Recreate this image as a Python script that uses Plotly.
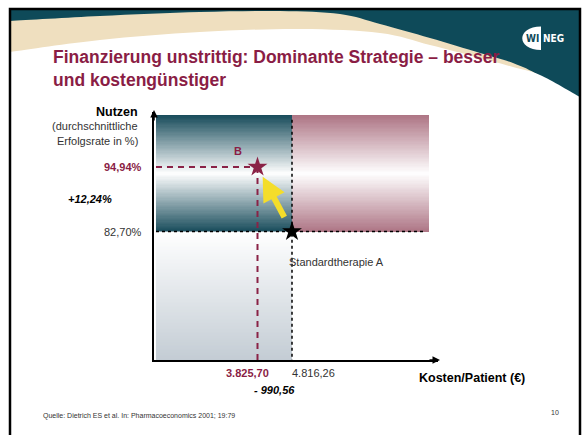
import numpy as np
import plotly.graph_objects as go

W, H = 583, 435

# ---------------- data ----------------
labels = ["Standardtherapie A", "B"]
kosten = [4816.26, 3825.70]      # Kosten/Patient (€)
nutzen = [82.70, 94.94]          # durchschnittliche Erfolgsrate in %
A_x, B_x = kosten
A_y, B_y = nutzen

title_lines = ["Finanzierung unstrittig: Dominante Strategie \u2013 besser",
               "und kostengünstiger"]
y_title = ["Nutzen", "(durchschnittliche", "Erfolgsrate in %)"]
x_title = "Kosten/Patient (\u20ac)"
source = "Quelle: Dietrich ES et al. In: Pharmacoeconomics 2001; 19:79"
page_no = "10"

# ---------------- layout constants ----------------
X_RANGE = [854, 9008]
Y_RANGE = [58.31, 105.38]
REGION_LEFT = 911
REGION_TOP = 104.81
PINK_END = 8750
VDOT_TOP = 103.9
HDOT_END = 8635

TEAL = "#0e4a59"
BEIGE = "#efdfbf"
MAROON = "#8a1d45"
DASH_MAROON = "#8a2246"
GREY_TXT = "#333333"
YELLOW = "#f4dd2a"
FONT = "Liberation Sans, Arial, sans-serif"
NARROW = "Liberation Sans Narrow, Arial Narrow, DejaVu Sans Condensed, Liberation Sans"


def de(v):
    s = f"{v:,.2f}"
    return s.replace(",", "X").replace(".", ",").replace("X", ".")


def P(x, y):
    return f"{x / W:.5f},{1 - y / H:.5f}"


def smooth(pts):
    path = "M " + P(*pts[0])
    n = len(pts)
    for i in range(n - 1):
        p0 = np.array(pts[i - 1] if i > 0 else pts[i], float)
        p1 = np.array(pts[i], float)
        p2 = np.array(pts[i + 1], float)
        p3 = np.array(pts[i + 2] if i + 2 < n else pts[i + 1], float)
        c1 = p1 + (p2 - p0) / 6
        c2 = p2 - (p3 - p1) / 6
        path += f" C {P(*c1)} {P(*c2)} {P(*p2)}"
    return path


fig = go.Figure()

# ---------------- gradient regions ----------------
N = 90
f = (np.arange(N) + 0.5) / N
y_up = np.linspace(A_y, REGION_TOP, N + 1)
z_sym = [[abs(2 * v - 1)] for v in f]
fig.add_trace(go.Heatmap(x=[REGION_LEFT, A_x], y=y_up, z=z_sym, zmin=0, zmax=1,
                         colorscale=[[0, "#ffffff"], [1, "#174b5a"]],
                         showscale=False, hoverinfo="skip"))
fig.add_trace(go.Heatmap(x=[A_x, PINK_END], y=y_up, z=z_sym, zmin=0, zmax=1,
                         colorscale=[[0, "#ffffff"], [1, "#ad7484"]],
                         showscale=False, hoverinfo="skip"))
y_low = np.linspace(Y_RANGE[0], A_y, N + 1)
z_low = [[1 - v] for v in f]
fig.add_trace(go.Heatmap(x=[REGION_LEFT, A_x], y=y_low, z=z_low, zmin=0, zmax=1,
                         colorscale=[[0, "#ffffff"], [1, "#c3ccd4"]],
                         showscale=False, hoverinfo="skip"))

# ---------------- reference lines ----------------
fig.add_trace(go.Scatter(x=[A_x, A_x], y=[VDOT_TOP, Y_RANGE[0]], mode="lines",
                         line=dict(color="black", width=1.5, dash="dot"), hoverinfo="skip"))
fig.add_trace(go.Scatter(x=[REGION_LEFT, HDOT_END], y=[A_y, A_y], mode="lines",
                         line=dict(color="black", width=1.5, dash="dot"), hoverinfo="skip"))
fig.add_trace(go.Scatter(x=[REGION_LEFT, B_x], y=[B_y, B_y], mode="lines",
                         line=dict(color=DASH_MAROON, width=2, dash="6px,5px"), hoverinfo="skip"))
fig.add_trace(go.Scatter(x=[B_x, B_x], y=[B_y, Y_RANGE[0]], mode="lines",
                         line=dict(color=DASH_MAROON, width=2, dash="6px,5px"), hoverinfo="skip"))

# ---------------- points ----------------
fig.add_trace(go.Scatter(x=kosten, y=nutzen, mode="markers",
                         marker=dict(symbol="star", size=15, color=["black", DASH_MAROON],
                                     line=dict(width=0)),
                         hoverinfo="skip"))

# ---------------- background shapes ----------------
shapes = []
shapes.append(dict(type="path", xref="paper", yref="paper", layer="below",
                   path=f"M {P(10, 9)} L {P(580, 9)} L {P(580, 115)} L {P(10, 115)} Z",
                   fillcolor=TEAL, line=dict(width=0)))
beige_top = [(10, 21), (100, 16), (200, 12), (280, 11), (340, 14), (380, 24), (430, 38),
             (480, 53), (513, 63), (540, 76), (580, 104)]
shapes.append(dict(type="path", xref="paper", yref="paper", layer="below",
                   path=smooth(beige_top) + f" L {P(580, 115)} L {P(10, 115)} Z",
                   fillcolor=BEIGE, line=dict(width=0)))
white_top = [(10, 52), (100, 40), (200, 32), (300, 29), (380, 33), (430, 45), (480, 58),
             (513, 67), (540, 75), (580, 97)]
shapes.append(dict(type="path", xref="paper", yref="paper", layer="below",
                   path=smooth(white_top) + f" L {P(580, 120)} L {P(10, 120)} Z",
                   fillcolor="white", line=dict(width=0)))
# logo disc
shapes.append(dict(type="path", xref="paper", yref="paper", layer="above",
                   path=f"M {P(541, 26.5)} C {P(516, 26.5)} {P(516, 50)} {P(541, 50)} Z",
                   fillcolor="white", line=dict(width=0)))
# slide border
shapes.append(dict(type="path", xref="paper", yref="paper", layer="above",
                   path=f"M {P(10, 450)} L {P(10, 9)} L {P(580, 9)} L {P(580, 450)}",
                   line=dict(color="black", width=2.5)))

ann = []


def txt(text, x, y, xref="paper", yref="paper", size=11, color=GREY_TXT, bold=False,
        italic=False, xanchor="center", yanchor="middle", xshift=0, yshift=0, family=FONT,
        align="center"):
    t = text
    if bold:
        t = f"<b>{t}</b>"
    if italic:
        t = f"<i>{t}</i>"
    ann.append(dict(text=t, x=x, y=y, xref=xref, yref=yref, showarrow=False,
                    xanchor=xanchor, yanchor=yanchor, xshift=xshift, yshift=yshift,
                    align=align, font=dict(family=family, size=size, color=color)))


def px(x):
    return x / W


def py(y):
    return 1 - y / H


# title (one text block, two lines)
txt("<br>".join(f"<b>{s}</b>" for s in title_lines), px(51), py(68.5), size=17.5,
    color=MAROON, xanchor="left", align="left")
# logo
txt("WI", px(541), py(38.5), size=10, color=TEAL, bold=True, xanchor="right", family=NARROW)
txt("NEG", px(540.5), py(38.5), size=10, color="white", bold=True, xanchor="left", family=NARROW)

# y-axis labels
txt(y_title[0], px(139.5), py(112), size=12.5, color="black", bold=True, xanchor="right")
txt(y_title[1], px(139.5), py(126), size=11, xanchor="right")
txt(y_title[2], px(139.5), py(140.5), size=11, xanchor="right")
txt(de(B_y) + "%", px(143.5), B_y, yref="y", size=11, color=MAROON, bold=True, xanchor="right")
txt(de(A_y) + "%", px(143.5), A_y, yref="y", size=11, xanchor="right")
txt("+" + de(B_y - A_y) + "%", px(89.5), (A_y + B_y) / 2, yref="y", size=11,
    color="black", bold=True, italic=True)

# point labels
txt(labels[1], B_x, B_y, xref="x", yref="y", size=11, color=MAROON, bold=True,
    xshift=-19.5, yshift=16)
txt(labels[0], A_x, A_y, xref="x", yref="y", size=11, xanchor="left",
    xshift=-5.5, yshift=-30)

# x-axis labels
txt(de(B_x), B_x, py(372.5), xref="x", size=11, color=MAROON, bold=True, xshift=-10.5)
txt(de(A_x), A_x, py(372.5), xref="x", size=11, xanchor="left", xshift=-2.5)
txt("- " + de(A_x - B_x), (A_x + B_x) / 2, py(389.5), xref="x", size=11,
    color="black", bold=True, italic=True)
txt(x_title, px(417), py(378), size=12.5, color="black", bold=True, xanchor="left")

# footer
txt(source, px(41), py(416), size=7, xanchor="left")
txt(page_no, px(554.5), py(412), size=7)

# yellow improvement arrow (from A towards B)
t0, t1 = 0.2, 0.85
ann.append(dict(x=A_x + t1 * (B_x - A_x), y=A_y + t1 * (B_y - A_y),
                ax=A_x + t0 * (B_x - A_x), ay=A_y + t0 * (B_y - A_y),
                xref="x", yref="y", axref="x", ayref="y", text="", showarrow=True,
                arrowhead=2, arrowsize=0.8, arrowwidth=6, arrowcolor=YELLOW))
# axis arrowheads
ann.append(dict(x=px(440), y=py(360), xref="paper", yref="paper", ax=-12, ay=0,
                text="", showarrow=True, arrowhead=2, arrowsize=1, arrowwidth=1.5,
                arrowcolor="black"))
ann.append(dict(x=px(154), y=py(110), xref="paper", yref="paper", ax=0, ay=12,
                text="", showarrow=True, arrowhead=2, arrowsize=1, arrowwidth=1.5,
                arrowcolor="black"))

fig.update_layout(
    width=W, height=H, autosize=False,
    margin=dict(l=0, r=0, t=0, b=0),
    paper_bgcolor="white", plot_bgcolor="rgba(0,0,0,0)",
    showlegend=False,
    shapes=shapes, annotations=ann,
    font=dict(family=FONT),
    xaxis=dict(domain=[154 / W, 438 / W], range=X_RANGE, showgrid=False, zeroline=False,
               showticklabels=False, ticks="", showline=True, linecolor="black",
               linewidth=2, fixedrange=True),
    yaxis=dict(domain=[1 - 360 / H, 1 - 112 / H], range=Y_RANGE, showgrid=False,
               zeroline=False, showticklabels=False, ticks="", showline=True,
               linecolor="black", linewidth=2, fixedrange=True),
)

fig.write_html("out.html", config={"displayModeBar": False},
               post_script="document.body.style.margin='0';document.body.style.overflow='hidden';")
